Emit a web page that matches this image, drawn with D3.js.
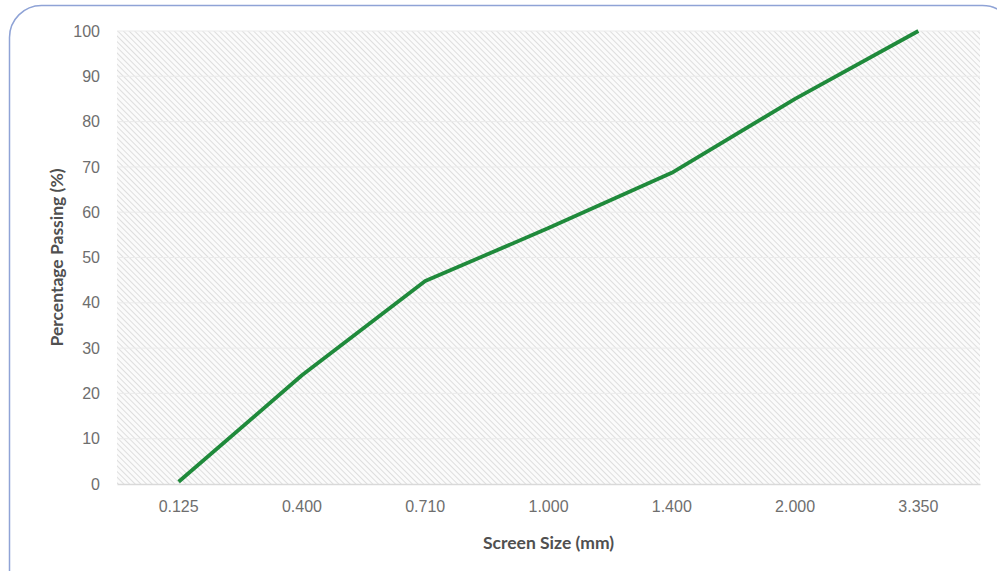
<!DOCTYPE html>
<html>
<head>
<meta charset="utf-8">
<script src="https://cdn.jsdelivr.net/npm/d3@7"></script>
<style>
  body { margin: 0; background: #fff; }
  svg { display: block; font-family: Lato, "Open Sans", sans-serif; }
</style>
</head>
<body>
<div id="chart"></div>
<script>
// Sieve data
var sizes = ["0.125", "0.400", "0.710", "1.000", "1.400", "2.000", "3.350"];
var passing = [0.5, 24, 44.8, 56.5, 68.7, 85, 100];
var yTicks = [0, 10, 20, 30, 40, 50, 60, 70, 80, 90, 100];

var W = 997, H = 571;
var margin = {top: 31, right: 17, bottom: 87, left: 117},
    width = W - margin.left - margin.right,
    height = H - margin.top - margin.bottom;

var svg = d3.select("#chart").append("svg")
    .attr("width", W)
    .attr("height", H);

// hatch pattern for plot background
var pat = svg.append("defs").append("pattern")
    .attr("id", "hatch")
    .attr("width", 4).attr("height", 4)
    .attr("patternUnits", "userSpaceOnUse")
    .attr("patternTransform", "rotate(-45)");
pat.append("rect").attr("width", 4).attr("height", 4).attr("fill", "#fbfbfb");
pat.append("line")
    .attr("x1", 0).attr("y1", 0).attr("x2", 0).attr("y2", 4)
    .attr("stroke", "#dedede").attr("stroke-width", 2);

// outer rounded frame
svg.append("rect")
    .attr("x", 9.5).attr("y", 5.5)
    .attr("width", 1005).attr("height", 600)
    .attr("rx", 32).attr("ry", 32)
    .attr("fill", "none")
    .attr("stroke", "#8fa3d6")
    .attr("stroke-width", 1.5);

var g = svg.append("g")
    .attr("transform", "translate(" + margin.left + "," + margin.top + ")");

var x = d3.scaleBand().domain(sizes).range([0, width]);
var y = d3.scaleLinear().domain([0, 100]).range([height, 0]);

g.append("rect")
    .attr("width", width).attr("height", height)
    .attr("fill", "url(#hatch)");

// horizontal gridlines
g.selectAll(".grid")
  .data(yTicks.slice(1))
  .enter().append("line")
    .attr("x1", 0).attr("x2", width)
    .attr("y1", function(d) { return y(d); })
    .attr("y2", function(d) { return y(d); })
    .attr("stroke", "#ebebeb");

// y axis
var yAxis = g.append("g")
    .call(d3.axisLeft(y).tickValues(yTicks).tickSize(0).tickPadding(17));
yAxis.select(".domain").remove();
yAxis.selectAll("text")
    .attr("fill", "#6e6e6e").style("font-size", "16px");

// x axis
var xAxis = g.append("g")
    .attr("transform", "translate(0," + height + ")")
    .call(d3.axisBottom(x).tickSize(0).tickPadding(17));
xAxis.select(".domain").attr("stroke", "#d9d9d9").attr("stroke-width", 1.5);
xAxis.selectAll("text")
    .attr("fill", "#6e6e6e").style("font-size", "16px");

// line
var line = d3.line()
    .x(function(d, i) { return x(sizes[i]) + x.bandwidth() / 2; })
    .y(function(d) { return y(d); });

g.append("path")
    .datum(passing)
    .attr("d", line)
    .attr("fill", "none")
    .attr("stroke", "#1f8a3b")
    .attr("stroke-width", 3.8)
    .attr("stroke-linejoin", "round");

// axis titles
svg.append("text")
    .attr("x", margin.left + width / 2)
    .attr("y", 549)
    .attr("text-anchor", "middle")
    .attr("fill", "#505050")
    .style("font-size", "17.5px")
    .style("font-weight", "bold")
    .text("Screen Size (mm)");

svg.append("text")
    .attr("transform", "translate(63," + (margin.top + height / 2) + ") rotate(-90)")
    .attr("text-anchor", "middle")
    .attr("fill", "#505050")
    .style("font-size", "17.5px")
    .style("font-weight", "bold")
    .text("Percentage Passing (%)");
</script>
</body>
</html>
